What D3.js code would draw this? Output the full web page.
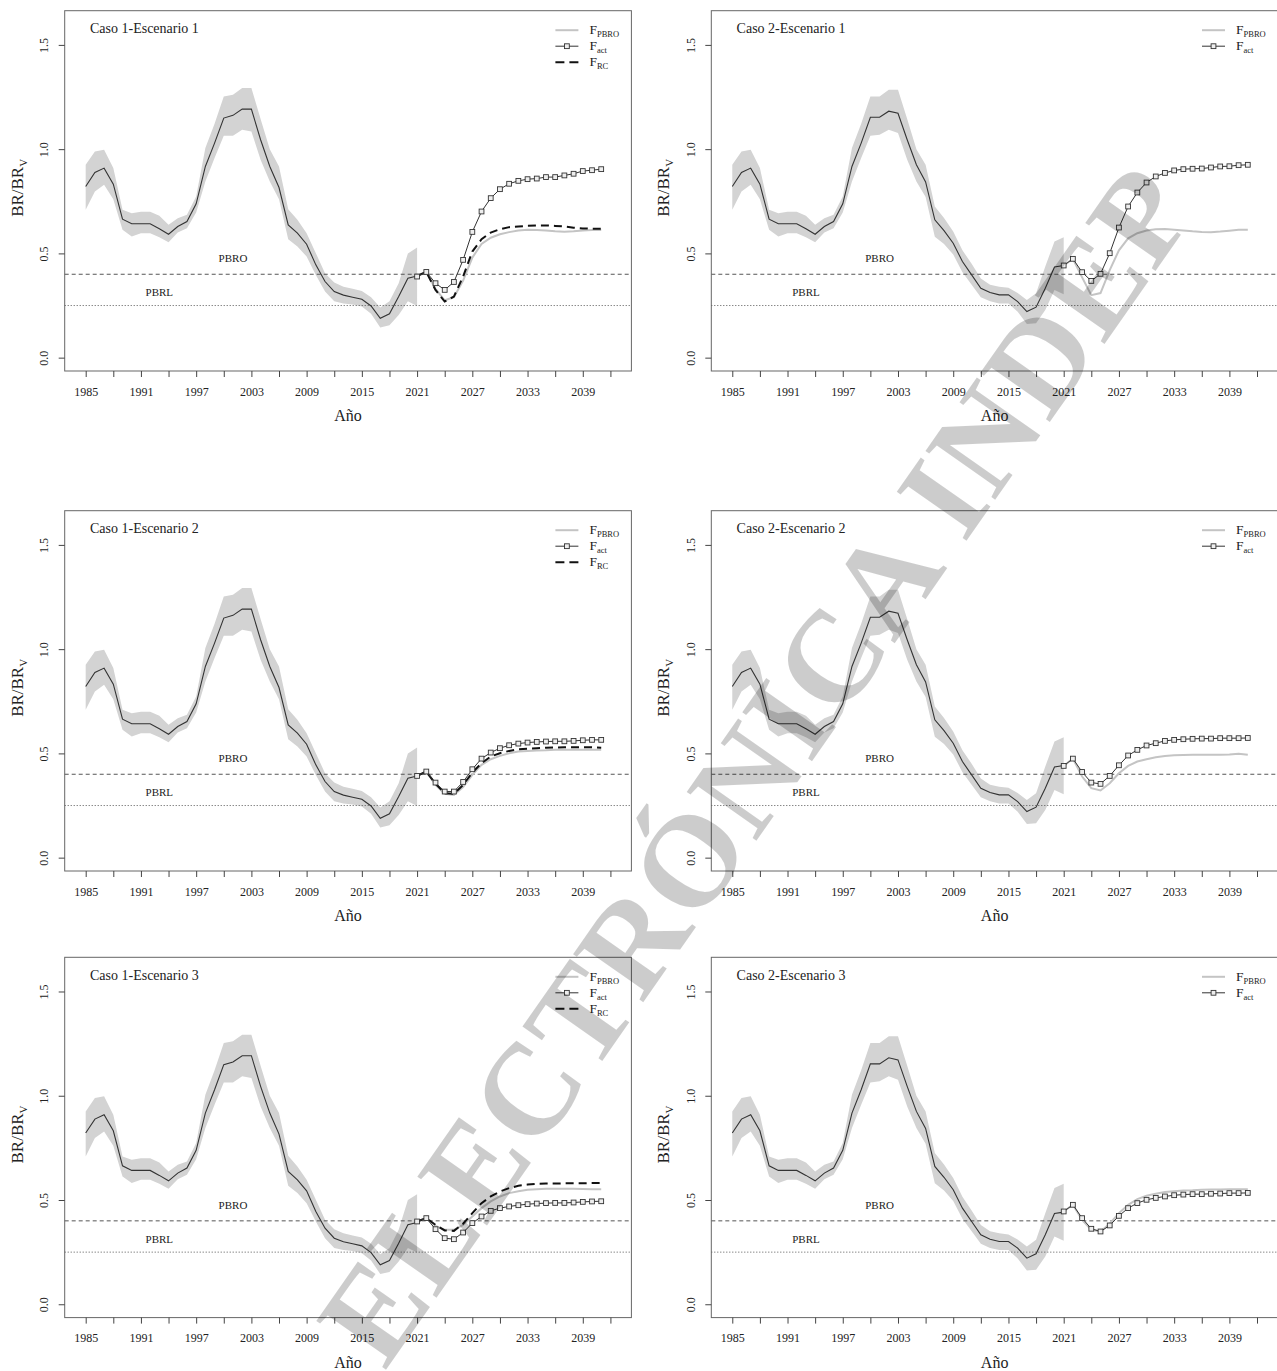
<!DOCTYPE html>
<html>
<head>
<meta charset="utf-8">
<script src="https://cdn.jsdelivr.net/npm/d3@7"></script>
<style>
  body { margin: 0; background: #fff; }
  text { font-family: "Liberation Serif", "Times New Roman", serif; fill: #222; }
</style>
</head>
<body>
<div id="chart"></div>
<script>

// years
var histYears = [1985,1986,1987,1988,1989,1990,1991,1992,1993,1994,1995,1996,1997,1998,1999,
  2000,2001,2002,2003,2004,2005,2006,2007,2008,2009,2010,2011,2012,2013,2014,2015,2016,2017,
  2018,2019,2020,2021]
var projYears = [2021,2022,2023,2024,2025,2026,2027,2028,2029,2030,2031,2032,2033,2034,2035,
  2036,2037,2038,2039,2040,2041]
var tickYears = [1985,1988,1991,1994,1997,2000,2003,2006,2009,2012,2015,2018,2021,2024,2027,
  2030,2033,2036,2039,2042]
var labelYears = [1985,1991,1997,2003,2009,2015,2021,2027,2033,2039]
var yTicks = [0, 0.5, 1.0, 1.5]

// historical BR/BRv, caso 1 (median and band)
var hist1 = [0.821,0.888,0.909,0.832,0.664,0.642,0.642,0.642,0.618,0.592,
  0.629,0.653,0.738,0.917,1.029,1.149,1.162,1.192,1.192,1.045,
  0.917,0.816,0.637,0.597,0.544,0.445,0.365,0.317,0.300,0.290,
  0.280,0.248,0.189,0.210,0.293,0.381,0.392]
var hist1Hi = [0.925,0.989,0.997,0.909,0.709,0.693,0.700,0.700,0.680,0.637,
  0.669,0.685,0.773,1.005,1.122,1.253,1.261,1.293,1.293,1.144,
  1.000,0.917,0.712,0.661,0.597,0.501,0.405,0.360,0.340,0.330,
  0.320,0.290,0.240,0.270,0.357,0.500,0.528]
var hist1Lo = [0.709,0.797,0.829,0.760,0.613,0.581,0.597,0.597,0.578,0.554,
  0.600,0.621,0.696,0.845,0.957,1.064,1.064,1.093,1.085,0.949,
  0.845,0.760,0.568,0.533,0.485,0.397,0.317,0.270,0.260,0.255,
  0.245,0.210,0.145,0.155,0.205,0.270,0.248]

// historical BR/BRv, caso 2
var hist2 = [0.821,0.888,0.909,0.832,0.664,0.642,0.642,0.642,0.618,0.592,
  0.629,0.653,0.738,0.917,1.029,1.153,1.153,1.182,1.172,1.045,
  0.925,0.843,0.661,0.609,0.549,0.461,0.397,0.333,0.312,0.301,
  0.301,0.269,0.221,0.242,0.333,0.435,0.442]
var hist2Hi = [0.925,0.989,0.997,0.909,0.709,0.693,0.700,0.700,0.680,0.637,
  0.669,0.685,0.773,1.005,1.122,1.253,1.253,1.285,1.285,1.144,
  1.000,0.925,0.725,0.670,0.605,0.515,0.450,0.380,0.350,0.340,
  0.335,0.310,0.277,0.309,0.437,0.557,0.578]
var hist2Lo = [0.709,0.797,0.829,0.760,0.613,0.581,0.597,0.597,0.578,0.554,
  0.600,0.621,0.696,0.845,0.957,1.064,1.069,1.093,1.077,0.949,
  0.845,0.770,0.580,0.545,0.495,0.410,0.350,0.290,0.270,0.260,
  0.260,0.220,0.162,0.165,0.229,0.325,0.304]

// projections 2021-2041
var c1e1Pbro = [0.392,0.411,0.330,0.275,0.290,0.370,0.480,0.545,0.575,0.592,0.602,0.610,0.613,0.612,0.610,0.606,0.604,0.606,0.610,0.612,0.612]
var c1e1Act  = [0.389,0.411,0.357,0.325,0.363,0.469,0.603,0.701,0.765,0.808,0.834,0.848,0.856,0.859,0.866,0.866,0.874,0.882,0.895,0.899,0.904]
var c1e1Rc   = [0.392,0.411,0.325,0.269,0.293,0.389,0.509,0.568,0.600,0.616,0.626,0.629,0.632,0.634,0.634,0.632,0.629,0.623,0.620,0.618,0.618]

var c2e1Pbro = [0.442,0.474,0.385,0.300,0.310,0.420,0.515,0.572,0.597,0.610,0.616,0.617,0.614,0.610,0.606,0.603,0.602,0.605,0.609,0.613,0.613]
var c2e1Act  = [0.442,0.474,0.410,0.368,0.402,0.501,0.624,0.725,0.792,0.840,0.869,0.886,0.898,0.904,0.906,0.907,0.912,0.917,0.918,0.923,0.925]

var c1e2Pbro = [0.392,0.413,0.349,0.306,0.301,0.338,0.397,0.445,0.472,0.488,0.501,0.509,0.512,0.514,0.515,0.517,0.517,0.517,0.517,0.517,0.517]
var c1e2Act  = [0.392,0.413,0.360,0.317,0.317,0.363,0.424,0.475,0.504,0.525,0.539,0.547,0.552,0.555,0.557,0.558,0.558,0.560,0.563,0.565,0.565]
var c1e2Rc   = [0.392,0.413,0.354,0.309,0.306,0.349,0.408,0.453,0.485,0.501,0.512,0.520,0.523,0.525,0.527,0.528,0.530,0.530,0.530,0.530,0.527]

var c2e2Pbro = [0.440,0.475,0.389,0.333,0.322,0.357,0.405,0.440,0.461,0.472,0.482,0.488,0.491,0.492,0.493,0.493,0.494,0.494,0.495,0.498,0.493]
var c2e2Act  = [0.440,0.475,0.411,0.360,0.354,0.392,0.443,0.490,0.517,0.538,0.549,0.560,0.565,0.568,0.570,0.571,0.571,0.573,0.573,0.573,0.574]

var c1e3Pbro = [0.397,0.413,0.376,0.357,0.357,0.381,0.421,0.461,0.493,0.517,0.533,0.542,0.549,0.552,0.554,0.554,0.554,0.554,0.553,0.552,0.552]
var c1e3Act  = [0.397,0.413,0.360,0.317,0.312,0.344,0.389,0.421,0.448,0.461,0.469,0.475,0.480,0.483,0.485,0.486,0.486,0.488,0.491,0.493,0.494]
var c1e3Rc   = [0.397,0.413,0.381,0.354,0.352,0.386,0.437,0.485,0.517,0.541,0.557,0.568,0.574,0.578,0.579,0.579,0.580,0.580,0.580,0.581,0.581]

var c2e3Pbro = [0.445,0.477,0.405,0.357,0.349,0.386,0.437,0.477,0.504,0.520,0.530,0.538,0.542,0.546,0.547,0.549,0.550,0.550,0.551,0.552,0.552]
var c2e3Act  = [0.445,0.477,0.413,0.362,0.349,0.378,0.424,0.461,0.485,0.501,0.510,0.517,0.523,0.526,0.528,0.528,0.530,0.531,0.533,0.533,0.534]

var titles = ['Caso 1-Escenario 1','Caso 2-Escenario 1','Caso 1-Escenario 2',
  'Caso 2-Escenario 2','Caso 1-Escenario 3','Caso 2-Escenario 3']
var pbro = 0.4, pbrl = 0.25

var panels = [
  {title: titles[0], hist: hist1, lo: hist1Lo, hi: hist1Hi, pbroS: c1e1Pbro, act: c1e1Act, rc: c1e1Rc},
  {title: titles[1], hist: hist2, lo: hist2Lo, hi: hist2Hi, pbroS: c2e1Pbro, act: c2e1Act},
  {title: titles[2], hist: hist1, lo: hist1Lo, hi: hist1Hi, pbroS: c1e2Pbro, act: c1e2Act, rc: c1e2Rc},
  {title: titles[3], hist: hist2, lo: hist2Lo, hi: hist2Hi, pbroS: c2e2Pbro, act: c2e2Act},
  {title: titles[4], hist: hist1, lo: hist1Lo, hi: hist1Hi, pbroS: c1e3Pbro, act: c1e3Act, rc: c1e3Rc},
  {title: titles[5], hist: hist2, lo: hist2Lo, hi: hist2Hi, pbroS: c2e3Pbro, act: c2e3Act}
]

var width = 1277, height = 1371
var W = 566.7, H = 360.3
var lefts = [64.7, 711.3]
var tops = [10.7, 510.7, 957.3]

var svg = d3.select('#chart').append('svg')
    .attr('width', width)
    .attr('height', height)

// R-style axis limits (4% extension)
var x = d3.scaleLinear().domain([1982.72, 2044.28]).range([0, W])
var y = d3.scaleLinear().domain([-0.064, 1.664]).range([H, 0])

var line = d3.line().x(function(d) { return x(d[0]) }).y(function(d) { return y(d[1]) })

function drawPanel(p, i) {
  var g = svg.append('g')
      .attr('transform', 'translate(' + lefts[i % 2] + ',' + tops[Math.floor(i / 2)] + ')')

  // uncertainty band
  g.append('path')
    .datum(histYears.map(function(yr, k) { return [yr, p.lo[k], p.hi[k]] }))
    .attr('d', d3.area()
      .x(function(d) { return x(d[0]) })
      .y0(function(d) { return y(d[1]) })
      .y1(function(d) { return y(d[2]) }))
    .attr('fill', '#d3d3d3')

  // reference points
  g.append('line').attr('x1', 0).attr('x2', W).attr('y1', y(pbro)).attr('y2', y(pbro))
    .attr('stroke', '#555').attr('stroke-dasharray', '4,3').attr('stroke-width', 1)
  g.append('line').attr('x1', 0).attr('x2', W).attr('y1', y(pbrl)).attr('y2', y(pbrl))
    .attr('stroke', '#555').attr('stroke-dasharray', '1,2').attr('stroke-width', 1)
  g.append('text').attr('x', x(2001)).attr('y', y(0.477)).attr('dy', '0.35em')
    .attr('text-anchor', 'middle').style('font-size', '11px').text('PBRO')
  g.append('text').attr('x', x(1993)).attr('y', y(0.314)).attr('dy', '0.35em')
    .attr('text-anchor', 'middle').style('font-size', '11px').text('PBRL')

  // median
  g.append('path')
    .datum(histYears.map(function(yr, k) { return [yr, p.hist[k]] }))
    .attr('d', line).attr('fill', 'none').attr('stroke', '#333').attr('stroke-width', 1.1)

  // projections
  g.append('path')
    .datum(projYears.map(function(yr, k) { return [yr, p.pbroS[k]] }))
    .attr('d', line).attr('fill', 'none').attr('stroke', '#c4c4c4').attr('stroke-width', 2)

  if (p.rc) {
    g.append('path')
      .datum(projYears.map(function(yr, k) { return [yr, p.rc[k]] }))
      .attr('d', line).attr('fill', 'none').attr('stroke', '#111')
      .attr('stroke-width', 2).attr('stroke-dasharray', '8,5')
  }

  var actData = projYears.map(function(yr, k) { return [yr, p.act[k]] })
  g.append('path').datum(actData)
    .attr('d', line).attr('fill', 'none').attr('stroke', '#333').attr('stroke-width', 1)
  g.selectAll('rect.sq').data(actData).enter().append('rect')
    .attr('class', 'sq')
    .attr('x', function(d) { return x(d[0]) - 2.4 })
    .attr('y', function(d) { return y(d[1]) - 2.4 })
    .attr('width', 4.8).attr('height', 4.8)
    .attr('fill', '#eee').attr('stroke', '#333').attr('stroke-width', 0.9)

  // box
  g.append('rect').attr('width', W).attr('height', H)
    .attr('fill', 'none').attr('stroke', '#666').attr('stroke-width', 1)

  // x axis
  var xa = g.append('g').attr('transform', 'translate(0,' + H + ')')
    .call(d3.axisBottom(x).tickValues(tickYears).tickSize(6).tickPadding(10)
      .tickFormat(function(d) { return labelYears.indexOf(d) >= 0 ? d : '' }))
  xa.select('.domain').remove()
  xa.selectAll('line').attr('stroke', '#444')
  xa.selectAll('text').style('font-size', '12px').style('font-family', '"Liberation Serif", serif').attr('fill', '#222')

  // y axis
  var ya = g.append('g')
    .call(d3.axisLeft(y).tickValues(yTicks).tickSize(6).tickFormat(d3.format('.1f')))
  ya.select('.domain').remove()
  ya.selectAll('line').attr('stroke', '#444')
  ya.selectAll('text')
    .attr('x', null).attr('dy', null)
    .attr('transform', 'translate(-16.5,0) rotate(-90)')
    .attr('text-anchor', 'middle')
    .style('font-size', '12px').style('font-family', '"Liberation Serif", serif').attr('fill', '#222')

  // axis titles
  g.append('text').attr('x', W / 2).attr('y', H + 50).attr('text-anchor', 'middle')
    .style('font-size', '16px').text('Año')
  var yl = g.append('text').attr('transform', 'translate(-42,' + (H / 2 - 3) + ') rotate(-90)')
    .attr('text-anchor', 'middle').style('font-size', '17px')
  yl.append('tspan').text('BR/BR')
  yl.append('tspan').attr('dy', 4).style('font-size', '11px').text('V')

  // title
  g.append('text').attr('x', 25.3).attr('y', 22.5).style('font-size', '14px').text(p.title)

  // legend
  var items = [{lab: 'PBRO', type: 'pbro'}, {lab: 'act', type: 'act'}]
  if (p.rc) items.push({lab: 'RC', type: 'rc'})
  var lg = g.append('g').attr('transform', 'translate(' + (W - 76) + ',19.5)')
  items.forEach(function(it, k) {
    var row = lg.append('g').attr('transform', 'translate(0,' + (k * 16) + ')')
    if (it.type === 'pbro') {
      row.append('line').attr('x1', 0).attr('x2', 23).attr('stroke', '#c4c4c4').attr('stroke-width', 2)
    } else if (it.type === 'act') {
      row.append('line').attr('x1', 0).attr('x2', 23).attr('stroke', '#333').attr('stroke-width', 1)
      row.append('rect').attr('x', 9.1).attr('y', -2.4).attr('width', 4.8).attr('height', 4.8)
        .attr('fill', '#eee').attr('stroke', '#333').attr('stroke-width', 0.9)
    } else {
      row.append('line').attr('x1', 0).attr('x2', 23).attr('stroke', '#111')
        .attr('stroke-width', 2).attr('stroke-dasharray', '9,5')
    }
    var t = row.append('text').attr('x', 34).attr('y', 4).style('font-size', '13.5px')
    t.append('tspan').text('F')
    t.append('tspan').attr('dy', 3).style('font-size', '8.5px').text(it.lab)
  })
}

panels.forEach(drawPanel)

// watermark of the source document, drawn over the figure
svg.append('text')
  .attr('transform', 'translate(792,790) rotate(-55)')
  .attr('text-anchor', 'middle')
  .attr('textLength', 1420)
  .attr('lengthAdjust', 'spacing')
  .style('font-size', '130px')
  .style('font-weight', 'bold')
  .style('fill', '#000')
  .style('fill-opacity', 0.2)
  .text('ELECTRÓNICA INDEP')

</script>
</body>
</html>
